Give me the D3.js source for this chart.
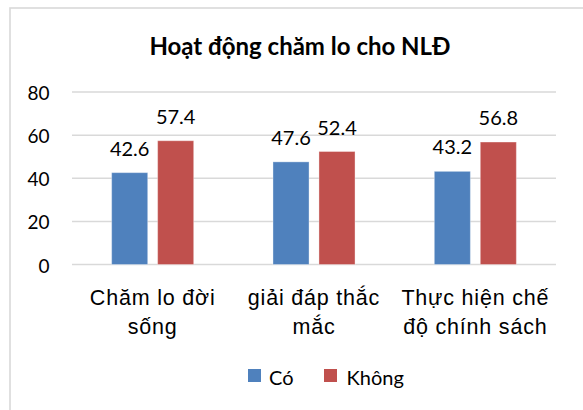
<!DOCTYPE html>
<html>
<head>
<meta charset="utf-8">
<script src="https://cdn.jsdelivr.net/npm/d3@7"></script>
<style>
  html, body { margin: 0; padding: 0; background: #fff; }
  svg { display: block; }
</style>
</head>
<body>
<svg id="chart" width="583" height="410"></svg>
<script>
// Chart data
const title = "Hoạt động chăm lo cho NLĐ";
const categories = ["Chăm lo đời sống", "giải đáp thắc mắc", "Thực hiện chế độ chính sách"];
const categoryLines = [["Chăm lo đời", "sống"], ["giải đáp thắc", "mắc"], ["Thực hiện chế", "độ chính sách"]];
const seriesNames = ["Có", "Không"];
const coValues = [42.6, 47.6, 43.2];
const khongValues = [57.4, 52.4, 56.8];
const yTicks = [0, 20, 40, 60, 80];
const colors = ["#4f81bd", "#c0504d"];

const series = [coValues, khongValues];
const rows = categories.map((c, i) => ({ cat: c, values: series.map(s => s[i]) }));

const svg = d3.select("#chart");
const numFont = "Lato, 'Open Sans', sans-serif";
const catFont = "'Liberation Sans', Arial, sans-serif";

// chart area frame
svg.append("rect")
  .attr("x", 10).attr("y", 8)
  .attr("width", 600).attr("height", 420)
  .attr("fill", "#fff")
  .attr("stroke", "#d9d9d9").attr("stroke-width", 1.6);

const plot = { left: 72, right: 556, top: 92, bottom: 264.5 };

const x = d3.scaleBand().domain(categories).range([plot.left, plot.right]);
const y = d3.scaleLinear().domain([0, 80]).range([plot.bottom, plot.top]);

// bar placement inside each category band
const barW = x.bandwidth() * 0.2235;
const gap = x.bandwidth() * 0.0615;

// gridlines
svg.append("g").selectAll("line").data(yTicks).join("line")
  .attr("x1", plot.left).attr("x2", plot.right)
  .attr("y1", d => y(d)).attr("y2", d => y(d))
  .attr("stroke", "#d9d9d9").attr("stroke-width", 1.5);

// y axis labels
const yAxis = d3.axisLeft(y).tickValues(yTicks).tickSize(0).tickPadding(0).tickFormat(d3.format("d"));
const yg = svg.append("g").attr("transform", `translate(49.5,1.5)`).call(yAxis);
yg.select(".domain").remove();
yg.selectAll("text").attr("font-family", numFont).attr("font-size", 19).attr("fill", "#000");

// bars
const groups = svg.append("g").selectAll("g").data(rows).join("g")
  .attr("transform", d => `translate(${x(d.cat) + x.bandwidth() / 2},0)`);

groups.selectAll("rect").data(d => d.values.map((v, k) => ({ v, k }))).join("rect")
  .attr("x", d => d.k === 0 ? -(barW + gap / 2) : gap / 2)
  .attr("width", barW)
  .attr("y", d => y(d.v))
  .attr("height", d => y(0) - y(d.v))
  .attr("fill", d => colors[d.k])
  .attr("stroke", "rgba(255,255,255,0.35)").attr("stroke-width", 1);

// value labels
groups.selectAll("text").data(d => d.values.map((v, k) => ({ v, k }))).join("text")
  .attr("x", d => d.k === 0 ? -(gap / 2 + barW / 2) : gap / 2 + barW / 2)
  .attr("y", d => y(d.v) - 17)
  .attr("text-anchor", "middle")
  .attr("font-family", numFont).attr("font-size", 20).attr("fill", "#000")
  .text(d => d.v.toFixed(1));

// category labels
const catG = svg.append("g").selectAll("text").data(categories).join("text")
  .attr("text-anchor", "middle")
  .attr("font-family", catFont).attr("font-size", 21.5)
  .attr("letter-spacing", 0.8)
  .attr("fill", "#000");
catG.each(function (c, i) {
  const t = d3.select(this);
  categoryLines[i].forEach((line, j) => {
    t.append("tspan")
      .attr("x", x(c) + x.bandwidth() / 2)
      .attr("y", 305 + j * 28.5)
      .text(line);
  });
});

// title
svg.append("text")
  .attr("x", 300).attr("y", 54.5)
  .attr("text-anchor", "middle")
  .attr("font-family", numFont).attr("font-weight", "bold").attr("font-size", 24)
  .attr("fill", "#000")
  .text(title);

// legend
const legendX = [248, 324];
const leg = svg.append("g").selectAll("g").data(seriesNames).join("g")
  .attr("transform", (d, i) => `translate(${legendX[i]},369)`);
leg.append("rect").attr("width", 13).attr("height", 13).attr("fill", (d, i) => colors[i]);
leg.append("text").attr("x", (d, i) => i === 0 ? 21 : 22.5).attr("y", 15.5)
  .attr("font-family", numFont).attr("font-size", 20).attr("fill", "#000")
  .text(d => d);
</script>
</body>
</html>
